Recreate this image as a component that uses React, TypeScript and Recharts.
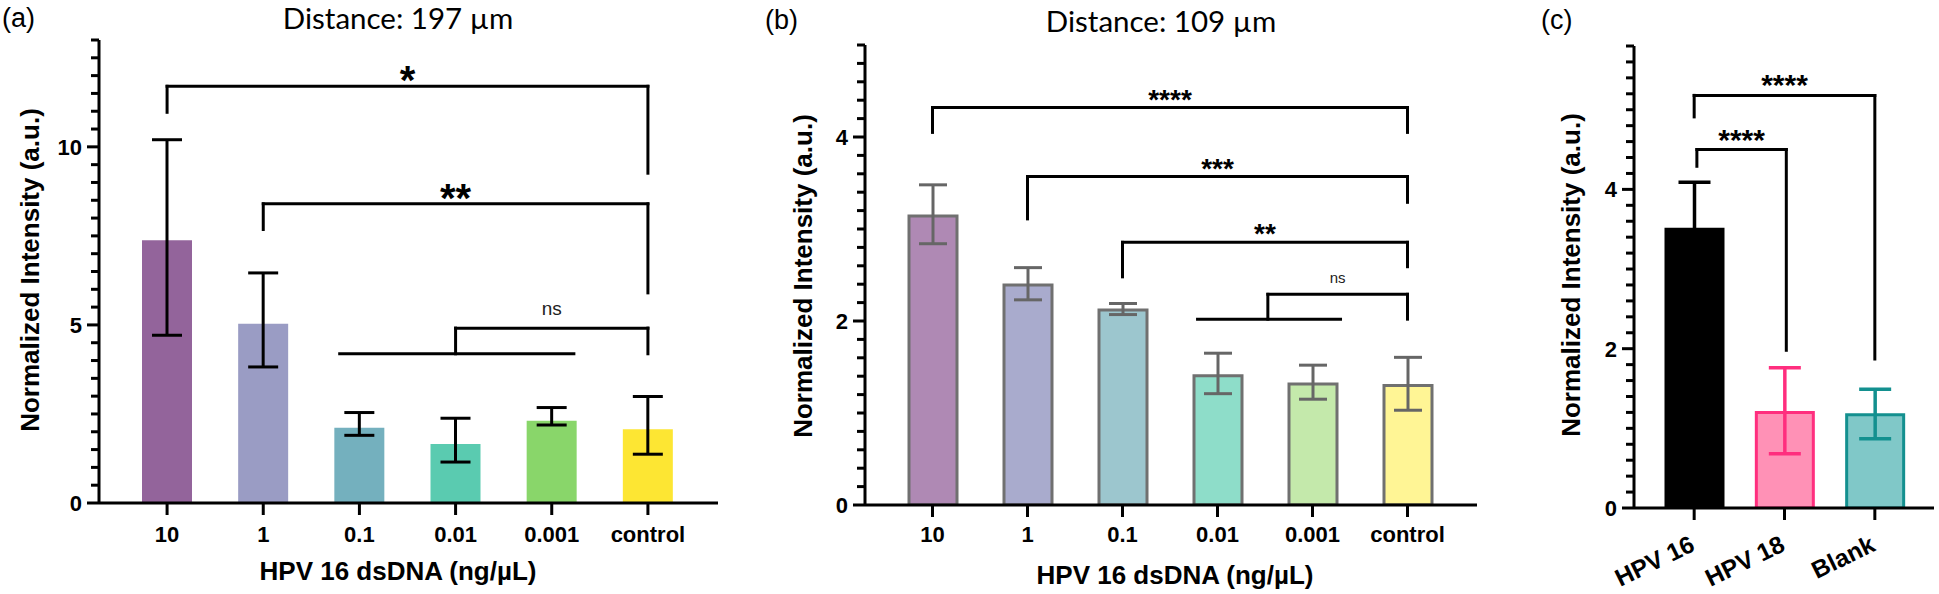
import React from 'react';
import { BarChart, Bar, XAxis, YAxis, ErrorBar, Cell, ReferenceLine } from 'recharts';

// ---------- data ----------
const catsA = ['10', '1', '0.1', '0.01', '0.001', 'control'];
const meansA = [7.38, 5.03, 2.11, 1.66, 2.31, 2.07];
const errA: [number, number][] = [[2.67, 2.82], [1.21, 1.43], [0.21, 0.43], [0.51, 0.72], [0.12, 0.37], [0.7, 0.92]];
const colorsA = ['#93649B', '#9A9CC4', '#74B0BE', '#5ACBB0', '#89D66A', '#FDE633'];
const ticksA = [0, 0.5, 1, 1.5, 2, 2.5, 3, 3.5, 4, 4.5, 5, 5.5, 6, 6.5, 7, 7.5, 8, 8.5, 9, 9.5, 10, 10.5, 11, 11.5, 12, 12.5, 13];
const majorsA = [0, 5, 10];

const catsB = ['10', '1', '0.1', '0.01', '0.001', 'control'];
const meansB = [3.14, 2.39, 2.12, 1.405, 1.315, 1.3];
const errB: [number, number][] = [[0.3, 0.34], [0.16, 0.19], [0.05, 0.07], [0.195, 0.245], [0.165, 0.205], [0.27, 0.305]];
const colorsB = ['#AF89B4', '#A9ABCD', '#9CC6CE', '#8EDDC9', '#C4E9AB', '#FFF595'];
const ticksB = [0, 0.2, 0.4, 0.6, 0.8, 1, 1.2, 1.4, 1.6, 1.8, 2, 2.2, 2.4, 2.6, 2.8, 3, 3.2, 3.4, 3.6, 3.8, 4, 4.2, 4.4, 4.6, 4.8, 5];
const majorsB = [0, 2, 4];

const catsC = ['HPV 16', 'HPV 18', 'Blank'];
const meansC = [3.5, 1.2, 1.17];
const errC: [number, number][] = [[0.59, 0.59], [0.52, 0.56], [0.3, 0.32]];
const fillsC = ['#000000', '#FF91B6', '#80C8C8'];
const strokesC = ['#000000', '#FF2E7E', '#13908F'];
const ticksC = [0, 0.2, 0.4, 0.6, 0.8, 1, 1.2, 1.4, 1.6, 1.8, 2, 2.2, 2.4, 2.6, 2.8, 3, 3.2, 3.4, 3.6, 3.8, 4, 4.2, 4.4, 4.6, 4.8, 5, 5.2, 5.4, 5.6, 5.8];
const majorsC = [0, 2, 4];

type Br = { label: string; x1: number; x2: number; y: number; y1: number; y2: number };
type Base = { x1: number; x2: number; y: number };

// brackets in category-index / value units
const bracketsA: Br[] = [
  { label: '*', x1: 0, x2: 5, y: 11.7, y1: 10.97, y2: 9.26 },
  { label: '**', x1: 1, x2: 5, y: 8.4, y1: 7.68, y2: 5.9 },
  { label: 'ns', x1: 3, x2: 5, y: 4.91, y1: 4.19, y2: 4.19 },
];
const basesA: Base[] = [{ x1: 1.795, x2: 4.23, y: 4.19 }];

const bracketsB: Br[] = [
  { label: '****', x1: 0, x2: 5, y: 4.32, y1: 4.05, y2: 4.05 },
  { label: '***', x1: 1, x2: 5, y: 3.57, y1: 3.11, y2: 3.29 },
  { label: '**', x1: 2, x2: 5, y: 2.855, y1: 2.48, y2: 2.59 },
  { label: 'ns', x1: 3.53, x2: 5, y: 2.29, y1: 2.02, y2: 2.02 },
];
const basesB: Base[] = [{ x1: 2.79, x2: 4.295, y: 2.02 }];

const bracketsC: Br[] = [
  { label: '****', x1: 0, x2: 2, y: 5.18, y1: 4.91, y2: 1.87 },
  { label: '****', x1: 0.03, x2: 1.02, y: 4.5, y1: 4.29, y2: 1.98 },
];
const basesC: Base[] = [];

// ---------- helpers ----------
const FONT = '"Liberation Sans", Arial, Helvetica, sans-serif';
const TITLE_FONT = 'Lato, "Open Sans", sans-serif';

const dataA = catsA.map((c, i) => ({ cat: c, v: meansA[i], e: errA[i] }));
const dataB = catsB.map((c, i) => ({ cat: c, v: meansB[i], e: errB[i] }));
const dataC = catsC.map((c, i) => {
  const row: any = { cat: c, v: meansC[i] };
  row['e' + i] = errC[i];
  return row;
});

const makeYTick = (majors: number[]) => (p: any) => {
  const ax = p.x + 17;
  const major = majors.includes(p.payload.value);
  return (
    <g>
      <line x1={ax - (major ? 12 : 8)} x2={ax} y1={p.y} y2={p.y} stroke="#000" strokeWidth={3} />
      {major && (
        <text x={p.x} y={p.y} dy="0.36em" textAnchor="end" fontSize={22} fontWeight="bold" fontFamily={FONT} fill="#000">
          {p.payload.value}
        </text>
      )}
    </g>
  );
};

const cTick = (p: any) => {
  const ax = p.x + 2;
  const ay = p.y + 22;
  return (
    <g>
      <text x={ax} y={ay} transform={`rotate(-26 ${ax} ${ay})`} textAnchor="end" fontSize={24.5} fontWeight="bold" fontFamily={FONT} fill="#000">
        {p.payload.value}
      </text>
    </g>
  );
};

type LabelStyle = { fontSize: number; fontWeight: string; offset: number; fill: string; fontFamily: string };

function bracketLines(brs: Br[], bases: Base[], star: LabelStyle, ns: LabelStyle, sw: number) {
  const out: any[] = [];
  brs.forEach((b, i) => {
    const st = b.label === 'ns' ? ns : star;
    out.push(
      <ReferenceLine
        key={'h' + i}
        xAxisId="n"
        segment={[{ x: b.x1, y: b.y }, { x: b.x2, y: b.y }]}
        stroke="#000"
        strokeWidth={sw}
        strokeLinecap="square"
        label={{ value: b.label, position: 'top', offset: st.offset, fontSize: st.fontSize, fontWeight: st.fontWeight, fill: st.fill, fontFamily: st.fontFamily }}
      />
    );
    out.push(
      <ReferenceLine key={'l' + i} xAxisId="n" segment={[{ x: b.x1, y: b.y }, { x: b.x1, y: b.y1 }]} stroke="#000" strokeWidth={sw} strokeLinecap="square" />
    );
    out.push(
      <ReferenceLine key={'r' + i} xAxisId="n" segment={[{ x: b.x2, y: b.y }, { x: b.x2, y: b.y2 }]} stroke="#000" strokeWidth={sw} strokeLinecap="square" />
    );
  });
  bases.forEach((b, i) => {
    out.push(
      <ReferenceLine key={'b' + i} xAxisId="n" segment={[{ x: b.x1, y: b.y }, { x: b.x2, y: b.y }]} stroke="#000" strokeWidth={sw} strokeLinecap="square" />
    );
  });
  return out;
}

const axisStyle = { stroke: '#000', strokeWidth: 3 };

type PanelProps = {
  data: any[];
  left: number;
  width: number;
  margin: { top: number; right: number; bottom: number; left: number };
  yMax: number;
  yTicks: number[];
  majors: number[];
  pad: { left: number; right: number };
  barSize: number;
  fills: string[];
  strokes: (string | undefined)[];
  strokeW: number;
  errBars: { key: string; w: number; color: string; sw: number }[];
  brackets: Br[];
  bases: Base[];
  star: LabelStyle;
  ns: LabelStyle;
  xTick: any;
  xTickMargin: number;
};

function Panel(pp: PanelProps) {
  const n = pp.data.length;
  // plot width inside the chart, used to put category centres on the hidden numeric axis
  const plotW = pp.width - pp.margin.left - pp.margin.right - 40;
  const half = (plotW - pp.pad.left - pp.pad.right) / n / 2;
  const numPad = { left: pp.pad.left + half, right: pp.pad.right + half };
  return (
    <div style={{ position: 'absolute', left: pp.left, top: 0 }}>
      <BarChart width={pp.width} height={594} data={pp.data} margin={pp.margin}>
        <XAxis
          dataKey="cat"
          interval={0}
          height={60}
          padding={pp.pad}
          tickSize={12}
          tickMargin={pp.xTickMargin}
          axisLine={axisStyle}
          tickLine={axisStyle}
          tick={pp.xTick}
        />
        <XAxis xAxisId="n" type="number" domain={[0, n - 1]} padding={numPad} hide allowDataOverflow />
        <XAxis xAxisId="top" orientation="top" height={0} tick={false} tickLine={false} axisLine={axisStyle} />
        <YAxis
          width={40}
          domain={[0, pp.yMax]}
          ticks={pp.yTicks}
          interval={0}
          allowDataOverflow
          tickSize={12}
          tickMargin={5}
          tickLine={false}
          axisLine={axisStyle}
          tick={makeYTick(pp.majors)}
        />
        <YAxis yAxisId="r" orientation="right" width={0} domain={[0, 1]} tick={false} tickLine={false} axisLine={axisStyle} />
        <Bar dataKey="v" barSize={pp.barSize} isAnimationActive={false}>
          {pp.data.map((d, i) => (
            <Cell key={i} fill={pp.fills[i]} stroke={pp.strokes[i]} strokeWidth={pp.strokes[i] ? pp.strokeW : 0} />
          ))}
          {pp.errBars.map((eb) => (
            <ErrorBar key={eb.key} dataKey={eb.key} width={eb.w} strokeWidth={eb.sw} stroke={eb.color} direction="y" isAnimationActive={false} />
          ))}
        </Bar>
        {bracketLines(pp.brackets, pp.bases, pp.star, pp.ns, 3)}
      </BarChart>
    </div>
  );
}

const xTickStyle = { fontSize: 22, fontWeight: 'bold', fill: '#000', fontFamily: FONT };

export default function App() {
  return (
    <div style={{ position: 'absolute', left: 0, top: 0, width: 1939, height: 594, background: '#fff', overflow: 'hidden' }}>
      <Panel
        data={dataA}
        left={0}
        width={740}
        margin={{ top: 40, right: 22, bottom: 31, left: 59 }}
        yMax={13}
        yTicks={ticksA}
        majors={majorsA}
        pad={{ left: 20, right: 22 }}
        barSize={50}
        fills={colorsA}
        strokes={[undefined, undefined, undefined, undefined, undefined, undefined]}
        strokeW={0}
        errBars={[{ key: 'e', w: 15, color: '#000', sw: 3 }]}
        brackets={bracketsA}
        bases={basesA}
        star={{ fontSize: 40, fontWeight: 'bold', offset: -8, fill: '#000', fontFamily: FONT }}
        ns={{ fontSize: 19, fontWeight: 'normal', offset: 13, fill: '#222', fontFamily: FONT }}
        xTick={xTickStyle}
        xTickMargin={11}
      />
      <Panel
        data={dataB}
        left={740}
        width={760}
        margin={{ top: 45, right: 23, bottom: 29, left: 85 }}
        yMax={5}
        yTicks={ticksB}
        majors={majorsB}
        pad={{ left: 20, right: 22 }}
        barSize={48}
        fills={colorsB}
        strokes={['#707070', '#707070', '#707070', '#707070', '#707070', '#707070']}
        strokeW={3}
        errBars={[{ key: 'e', w: 14, color: '#666666', sw: 3 }]}
        brackets={bracketsB}
        bases={basesB}
        star={{ fontSize: 28, fontWeight: 'bold', offset: -1, fill: '#000', fontFamily: FONT }}
        ns={{ fontSize: 15, fontWeight: 'normal', offset: 11, fill: '#222', fontFamily: FONT }}
        xTick={xTickStyle}
        xTickMargin={9}
      />
      <Panel
        data={dataC}
        left={1500}
        width={439}
        margin={{ top: 46, right: 5, bottom: 26, left: 94 }}
        yMax={5.8}
        yTicks={ticksC}
        majors={majorsC}
        pad={{ left: 15, right: 14 }}
        barSize={57}
        fills={fillsC}
        strokes={strokesC}
        strokeW={3}
        errBars={[
          { key: 'e0', w: 16, color: strokesC[0], sw: 3.5 },
          { key: 'e1', w: 16, color: strokesC[1], sw: 3.5 },
          { key: 'e2', w: 16, color: strokesC[2], sw: 3.5 },
        ]}
        brackets={bracketsC}
        bases={basesC}
        star={{ fontSize: 30, fontWeight: 'bold', offset: 0, fill: '#000', fontFamily: FONT }}
        ns={{ fontSize: 15, fontWeight: 'normal', offset: 11, fill: '#222', fontFamily: FONT }}
        xTick={cTick}
        xTickMargin={8}
      />
      <svg width={1939} height={594} style={{ position: 'absolute', left: 0, top: 0, pointerEvents: 'none' }}>
        <text x={2} y={27} fontSize={27} fontFamily={FONT} fill="#000">(a)</text>
        <text x={398} y={28.5} fontSize={29.5} fontFamily={TITLE_FONT} fill="#000" textAnchor="middle">Distance: 197 µm</text>
        <text x={765} y={29} fontSize={27} fontFamily={FONT} fill="#000">(b)</text>
        <text x={1161} y={32} fontSize={29.5} fontFamily={TITLE_FONT} fill="#000" textAnchor="middle">Distance: 109 µm</text>
        <text x={1541} y={29} fontSize={27} fontFamily={FONT} fill="#000">(c)</text>

        <text x={39} y={270} transform="rotate(-90 39 270)" fontSize={26} fontWeight="bold" fontFamily={FONT} fill="#000" textAnchor="middle">Normalized Intensity (a.u.)</text>
        <text x={812} y={276} transform="rotate(-90 812 276)" fontSize={26} fontWeight="bold" fontFamily={FONT} fill="#000" textAnchor="middle">Normalized Intensity (a.u.)</text>
        <text x={1580} y={275} transform="rotate(-90 1580 275)" fontSize={26} fontWeight="bold" fontFamily={FONT} fill="#000" textAnchor="middle">Normalized Intensity (a.u.)</text>

        <text x={398} y={580} fontSize={26} fontWeight="bold" fontFamily={FONT} fill="#000" textAnchor="middle">HPV 16 dsDNA (ng/µL)</text>
        <text x={1175} y={584} fontSize={26} fontWeight="bold" fontFamily={FONT} fill="#000" textAnchor="middle">HPV 16 dsDNA (ng/µL)</text>
      </svg>
    </div>
  );
}
